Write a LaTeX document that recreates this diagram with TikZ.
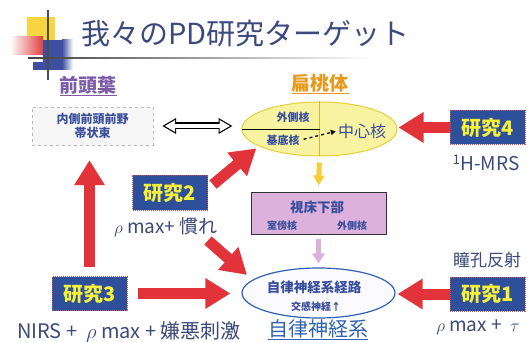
\documentclass[tikz,border=0pt]{standalone}
\usepackage{fontspec}
\setmainfont{Noto Sans CJK JP}
\usetikzlibrary{arrows.meta,shapes.geometric,calc}
\definecolor{titlec}{HTML}{3B4A7E}
\definecolor{purp}{HTML}{7D5BA6}
\definecolor{orangec}{HTML}{E69A1E}
\definecolor{boxblue}{HTML}{3A4F9C}
\definecolor{amyfill}{HTML}{F8F3A0}
\definecolor{amyline}{HTML}{E6CF3A}
\definecolor{hypfill}{HTML}{DCB2DC}
\definecolor{ansblue}{HTML}{2F62B0}
\definecolor{kblue}{HTML}{2E4F9A}
\definecolor{kyellow}{HTML}{F6F03A}
\definecolor{arrred}{HTML}{E2323A}
\definecolor{yelarr}{HTML}{F2CF3A}
\definecolor{pinkarr}{HTML}{DCB0DC}
\definecolor{textdark}{HTML}{3C4A7A}
\definecolor{decoyel}{HTML}{F5D640}
\definecolor{decored}{HTML}{E04040}
\definecolor{decoblue}{HTML}{3E4FA0}
\begin{document}
\begin{tikzpicture}[x=1pt,y=-1pt,
  kbox/.style={fill=kblue, draw={rgb,255:red,192;green,80;blue,96}, densely dotted, line width=1pt,
    text=kyellow, font=\fontsize{20}{22}\selectfont\bfseries, minimum width=75pt, minimum height=34pt, inner sep=0pt},
  redarr/.style={draw=arrred, line width=11pt, -{Triangle[length=25pt,width=29pt]}},
  lab/.style={text=textdark, font=\fontsize{18}{20}\selectfont, inner sep=1pt},
  small/.style={text=boxblue, font=\fontsize{10}{12}\selectfont\bfseries, inner sep=1pt}
]
\useasboundingbox (0,0) rectangle (530,342);
\fill[white] (0,0) rectangle (530,342);
% title decoration
\fill[decoyel] (27,17) rectangle (55,40);
\shade[left color=white, right color=decored] (10,37) rectangle (43,55);
\fill[decoblue] (43,40) rectangle (62,70);
\shade[left color=decoblue, right color=white] (62,40) rectangle (73,70);
\fill[decoblue] (33,62) rectangle (43,70);
\shade[left color=black!75, middle color=black!50, right color=white] (28,57.4) rectangle (372,58.8);
\draw[black!70, line width=1.1pt] (48,10) -- (48,80);
\node[anchor=west, text=titlec, font=\fontsize{29}{32}\selectfont, inner sep=0pt] (title) at (81,34) {我々のPD研究ターゲット};

% frontal
\node[text=purp, font=\fontsize{19}{21}\selectfont\bfseries] (flab) at (88,86) {\underline{前頭葉}};
\node[draw=gray!55, dashed, fill=gray!7, minimum width=121pt, minimum height=38pt, align=center,
  font=\fontsize{12}{14.5}\selectfont\bfseries, text=boxblue] (mpfc) at (92.5,126) {内側前頭前野\\帯状束};

% amygdala
\node[text=orangec, font=\fontsize{19}{21}\selectfont\bfseries] (alab) at (320,84) {\underline{扁桃体}};
\node[ellipse, draw=amyline, fill=amyfill, line width=1pt, minimum width=155pt, minimum height=54pt, inner sep=0pt] (amy) at (319.5,129) {};
\draw[amyline!90!black, line width=1pt] (amy.north) -- (amy.south);
\draw[black, line width=0.9pt] (amy.west) -- (amy.center);
\node[small, font=\fontsize{11}{12}\selectfont\bfseries] (lat1) at (293,117) {外側核};
\node[small, font=\fontsize{11}{12}\selectfont\bfseries] (bas) at (283,140) {基底核};
\node[text=boxblue, font=\fontsize{16}{18}\selectfont, inner sep=1pt] (cen) at (362,131) {中心核};
\draw[dashed, line width=1.3pt, -{Triangle[length=5pt,width=5pt]}, shorten <=3pt, shorten >=1pt] (bas.east) -- (cen.west);

% double hollow arrow
\draw[black, line width=7pt, {Triangle[length=14pt,width=15pt]}-{Triangle[length=14pt,width=15pt]}, shorten <=9pt, shorten >=9pt] (mpfc.east) -- (mpfc.east -| amy.west);
\draw[white, line width=4.6pt, {Triangle[length=10.3pt,width=11pt]}-{Triangle[length=10.3pt,width=11pt]}, shorten <=11.5pt, shorten >=11.5pt] (mpfc.east) -- (mpfc.east -| amy.west);

% study 4
\node[kbox] (k4) at (487.5,127.5) {研究4};
\node[lab, font=\fontsize{19}{21}\selectfont] (mrs) at (486,163) {\textsuperscript{1}H-MRS};
\draw[redarr, shorten >=1pt] (k4.west) -- (k4.west -| amy.east);

% hypothalamus
\node[draw=gray!40!black, line width=1pt, fill=hypfill, minimum width=135pt, minimum height=42pt] (hyp) at (318.5,213.5) {};
\node[text=boxblue, font=\fontsize{13.5}{15}\selectfont\bfseries, inner sep=1pt] (hypt) at (317,207) {視床下部};
\node[small] (pvn) at (282,226) {室傍核};
\node[small] (lat2) at (352,226) {外側核};
\draw[yelarr, line width=5pt, -{Triangle[length=10pt,width=11pt]}, shorten <=6pt, shorten >=6.5pt] (amy.south) -- (hyp.north);

% autonomic
\node[ellipse, draw=ansblue, fill=blue!2, line width=1.2pt, minimum width=153pt, minimum height=50pt, inner sep=0pt] (ans) at (318.5,293) {};
\draw[pinkarr, line width=5pt, -{Triangle[length=10pt,width=12pt]}, shorten <=3.5pt, shorten >=4pt] (hyp.south) -- (ans.north);
\node[text=boxblue, font=\fontsize{13.5}{15}\selectfont\bfseries, inner sep=1pt] (ant) at (314,287) {自律神経系経路};
\node[small] (sym) at (316,307) {交感神経↑};
\node[text=ansblue, font=\fontsize{20}{22}\selectfont, inner sep=1pt] (anslab) at (318,330) {\underline{自律神経系}};

% study 1
\node[kbox] (k1) at (487.5,294) {研究1};
\node[lab, font=\fontsize{17}{19}\selectfont] (pup) at (487,260) {瞳孔反射};
\node[lab, font=\fontsize{19}{21}\selectfont] (rho1) at (478,327) {$\rho$ max + \ $\tau$};
\draw[redarr, shorten >=2pt] (k1.west) -- (k1.west -| ans.east);

% study 3
\node[kbox] (k3) at (89.5,293.5) {研究3};
\node[lab, font=\fontsize{20}{22}\selectfont] (nirs) at (129,332) {NIRS + \ $\rho$ max + 嫌悪刺激};
\draw[redarr, shorten <=9pt, shorten >=15pt] (k3.north) -- (k3.north |- mpfc.south);
\draw[redarr, shorten <=10pt, shorten >=11pt] (k3.east) -- (k3.east -| ans.west);

% study 2
\node[kbox, minimum height=35pt] (k2) at (170,192.5) {研究2};
\node[lab, font=\fontsize{19}{21}\selectfont] (rho2) at (166,227) {$\rho$ max+ 慣れ};
\draw[redarr] ($(k2.north east)+(5,10)$) -- ($(amy.south west)+(-8,0)$);
\draw[redarr] ($(k2.south east)+(0,30)$) -- ($(ans.north west)+(-17,0)$);
\end{tikzpicture}
\end{document}
